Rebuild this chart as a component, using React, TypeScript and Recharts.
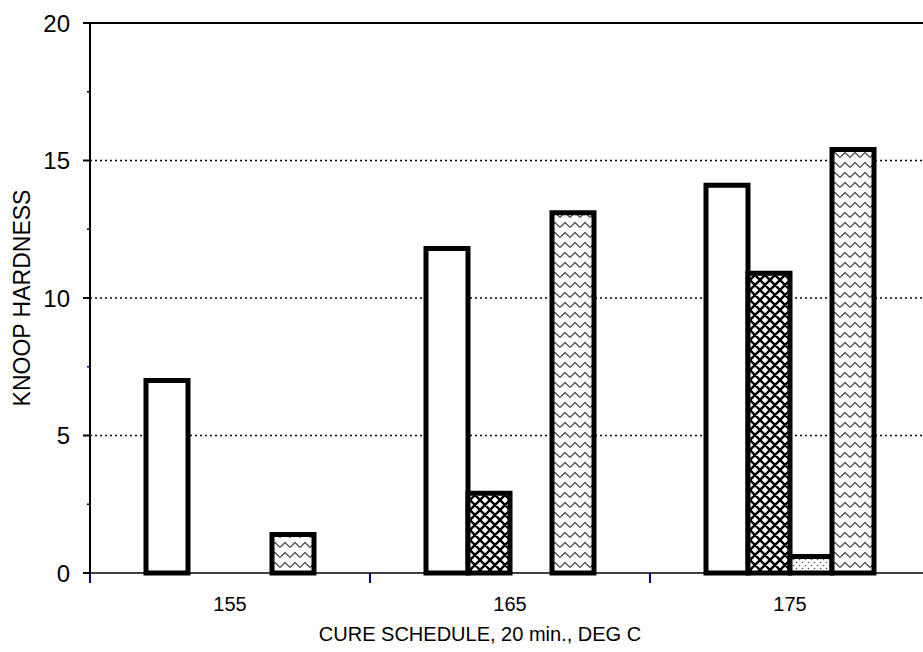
import React from 'react';
import { BarChart, Bar, XAxis, YAxis, CartesianGrid, ReferenceLine, Label } from 'recharts';

const categories = ['155', '165', '175'];
const seriesA = [7.0, 11.8, 14.1];
const seriesB: (number | null)[] = [null, 2.9, 10.9];
const seriesC: (number | null)[] = [null, null, 0.6];
const seriesD = [1.4, 13.1, 15.4];
const yTicks = [0, 2.5, 5, 7.5, 10, 12.5, 15, 17.5, 20];
const gridValues = [5, 10, 15];
const yMax = 20;
const xTitle = 'CURE SCHEDULE, 20 min., DEG C';
const yTitle = 'KNOOP HARDNESS';

const data = categories.map((c, i) => ({ cure: c, a: seriesA[i], b: seriesB[i], c: seriesC[i], d: seriesD[i] }));

const FONT = '"Liberation Sans", Arial, sans-serif';
const FS_X = 20;
const FS_Y = 24;
const FS_YT = 23;
const Y_TICK_SIZE = 7;
const Y_TICK_MARGIN = 13;
const X_TICK_SIZE = 10;
const X_TICK_MARGIN = 14;

const YTick = (props: any) => {
  const { x, y, payload } = props;
  const axisX = x + Y_TICK_SIZE + Y_TICK_MARGIN;
  const major = payload.value % 5 === 0;
  if (!major) {
    return <line x1={axisX - 3} x2={axisX - 1} y1={y} y2={y} stroke="#000080" strokeWidth={1.5} />;
  }
  return (
    <g>
      <line x1={axisX - Y_TICK_SIZE} x2={axisX} y1={y} y2={y} stroke="#000" strokeWidth={2} />
      <text x={x} y={y} dy="0.36em" textAnchor="end" fontSize={FS_Y} fontFamily={FONT} fill="#000">
        {payload.value}
      </text>
    </g>
  );
};

const XTick = (props: any) => {
  const { x, y, payload } = props;
  const axisY = y - X_TICK_SIZE - X_TICK_MARGIN;
  const off = payload.offset ?? 140;
  const bx = x - off;
  return (
    <g>
      <line x1={bx} x2={bx} y1={axisY} y2={axisY + 10} stroke="#000080" strokeWidth={2} />
      <text x={x} y={y} dy="0.71em" textAnchor="middle" fontSize={FS_X} fontFamily={FONT} fill="#000">
        {payload.value}
      </text>
    </g>
  );
};

export default function App() {
  return (
    <div style={{ position: 'absolute', left: 0, top: 0, width: 923, height: 652, overflow: 'hidden', background: '#fff' }}>
      <BarChart
        width={940}
        height={652}
        data={data}
        margin={{ top: 23, right: 10, bottom: 0, left: 0 }}
        barGap={0}
        barSize={42}
      >
        <defs>
          <pattern id="ptB" width="10" height="10" patternUnits="userSpaceOnUse">
            <rect width="10" height="10" fill="#fff" />
            <path d="M0,0 L10,10 M10,0 L0,10 M-2,8 L2,12 M8,-2 L12,2 M-2,2 L2,-2 M8,12 L12,8" stroke="#000" strokeWidth={2.4} />
          </pattern>
          <pattern id="ptC" width="6" height="6" patternUnits="userSpaceOnUse">
            <rect width="6" height="6" fill="#fff" />
            <circle cx="1.5" cy="1.5" r="0.8" fill="#555" />
            <circle cx="4.5" cy="4.5" r="0.8" fill="#555" />
          </pattern>
          <pattern id="ptD" width="10" height="10" patternUnits="userSpaceOnUse">
            <rect width="10" height="10" fill="#fff" />
            <path d="M0,7.5 L5,2.5 L10,7.5" stroke="#555" strokeWidth={1.3} fill="none" />
          </pattern>
        </defs>
        <CartesianGrid horizontalValues={gridValues} vertical={false} stroke="#000" strokeDasharray="2 3" strokeWidth={1.5} />
        <XAxis
          dataKey="cure"
          height={79}
          axisLine={{ stroke: '#000', strokeWidth: 1.5 }}
          tickLine={false}
          tickSize={X_TICK_SIZE}
          tickMargin={X_TICK_MARGIN}
          tick={<XTick />}
          interval={0}
        >
          <Label
            content={(p: any) => {
              const vb = p.viewBox;
              return (
                <text x={vb.x + vb.width / 2 - 30} y={vb.y + 54} dy="0.71em" textAnchor="middle" fontSize={FS_X} fontFamily={FONT} fill="#000">
                  {xTitle}
                </text>
              );
            }}
          />
        </XAxis>
        <YAxis
          type="number"
          domain={[0, yMax]}
          ticks={yTicks}
          interval={0}
          width={90}
          axisLine={{ stroke: '#000', strokeWidth: 2 }}
          tickLine={false}
          tickSize={Y_TICK_SIZE}
          tickMargin={Y_TICK_MARGIN}
          tick={<YTick />}
        >
          <Label
            content={(p: any) => {
              const vb = p.viewBox;
              const cx = vb.x + 22;
              const cy = vb.y + vb.height / 2;
              return (
                <text x={cx} y={cy} dy="0.36em" textAnchor="middle" transform={`rotate(-90, ${cx}, ${cy})`} fontSize={FS_YT} fontFamily={FONT} fill="#000">
                  {yTitle}
                </text>
              );
            }}
          />
        </YAxis>
        <ReferenceLine y={yMax} stroke="#000" strokeWidth={2} />
        <Bar dataKey="a" fill="#fff" stroke="#000" strokeWidth={5} isAnimationActive={false} />
        <Bar dataKey="b" fill="url(#ptB)" stroke="#000" strokeWidth={5} isAnimationActive={false} />
        <Bar dataKey="c" fill="url(#ptC)" stroke="#000" strokeWidth={5} isAnimationActive={false} />
        <Bar dataKey="d" fill="url(#ptD)" stroke="#000" strokeWidth={5} isAnimationActive={false} />
      </BarChart>
    </div>
  );
}
